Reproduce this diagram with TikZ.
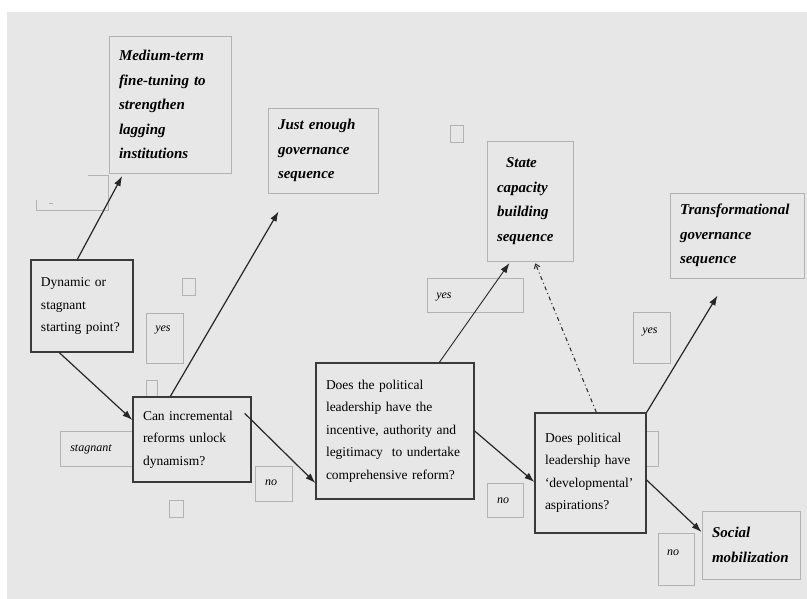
\documentclass[tikz,border=0pt]{standalone}
\usepackage{fontspec}
\setmainfont{Liberation Serif}
\usetikzlibrary{arrows.meta}
\definecolor{paper}{HTML}{E7E7E7}
\definecolor{edge}{HTML}{3A3A3A}
\definecolor{faint}{HTML}{B2B2B2}
\tikzset{
  qbox/.style={draw=edge, line width=1.3pt, fill=paper, inner xsep=10pt, inner ysep=0pt,
    align=left, font=\fontsize{13.5}{22.5}\selectfont},
  rbox/.style={draw=faint, line width=0.9pt, fill=paper, inner xsep=10pt, inner ysep=0pt,
    align=left, font=\fontsize{15}{24.5}\selectfont\bfseries\itshape},
  tagbox/.style={draw=faint, line width=0.9pt, fill=paper, inner sep=0pt},
  tagtext/.style={font=\fontsize{12}{14}\selectfont\itshape, inner sep=0pt},
  flow/.style={draw=black!85, line width=1.2pt, -{Latex[length=10pt,width=7pt]}},
  thinflow/.style={draw=black!85, line width=0.9pt, -{Latex[length=10pt,width=7pt]}},
  maybe/.style={draw=black!80, line width=1.1pt, dash pattern=on 4pt off 3pt on 1pt off 3pt,
    -{Straight Barb[length=4pt,width=6pt]}},
}
\begin{document}
\begin{tikzpicture}[x=1pt,y=-1pt]
\useasboundingbox (0,0) rectangle (807,599);
\fill[white] (0,0) rectangle (807,599);
\fill[paper] (7,12) rectangle (807,599);

% small tag frames (some partly hidden behind the question boxes)
\draw[faint, line width=0.9pt] (36,200) -- (36,210) -- (108,210) -- (108,175) -- (88,175);
\draw[faint, line width=0.8pt] (49,203) -- (53,203);
\node[tagbox, minimum width=13pt, minimum height=17pt] (sqa) at (188.5,286.5) {};
\node[tagbox, minimum width=37pt, minimum height=50pt] (yesa) at (164.5,338) {};
\node[tagbox, minimum width=11pt, minimum height=20pt] (sqb) at (151.5,390) {};
\node[tagbox, minimum width=80pt, minimum height=35pt] (stag) at (100,448.5) {};
\node[tagbox, minimum width=37pt, minimum height=35pt] (noa) at (273.5,483.5) {};
\node[tagbox, minimum width=14pt, minimum height=17pt] (sqc) at (176,508.5) {};
\node[tagbox, minimum width=13pt, minimum height=17pt] (sqd) at (456.5,133.5) {};
\node[tagbox, minimum width=96pt, minimum height=34pt] (yesb) at (475,295) {};
\node[tagbox, minimum width=37pt, minimum height=51pt] (yesc) at (651.5,337.5) {};
\node[tagbox, minimum width=18pt, minimum height=35pt] (sqe) at (649,448.5) {};
\node[tagbox, minimum width=36pt, minimum height=34pt] (nob) at (505,500) {};
\node[tagbox, minimum width=36pt, minimum height=52pt] (noc) at (676,559) {};

% tag words
\node[tagtext] (yesat) at (163,330) {yes};
\node[tagtext] (stagt) at (91,449) {stagnant};
\node[tagtext] (noat) at (271,483) {no};
\node[tagtext] (yesbt) at (444,297) {yes};
\node[tagtext] (yesct) at (650,332) {yes};
\node[tagtext] (nobt) at (503,501) {no};
\node[tagtext] (noct) at (673,553) {no};

% outcome boxes
\node[rbox, minimum width=122pt, minimum height=137pt, text width=102pt] (med) at (170,104.5)
  {Medium-term\\fine-tuning to\\strengthen\\lagging\\institutions};
\node[rbox, minimum width=110pt, minimum height=85pt, text width=90pt] (just) at (323,150.5)
  {Just enough\\governance\\sequence};
\node[rbox, minimum width=86pt, minimum height=120pt, text width=66pt] (state) at (530,201)
  {\hspace*{9pt}State\\capacity\\building\\sequence};
\node[rbox, minimum width=134pt, minimum height=85pt, text width=114pt] (trans) at (737,235.5)
  {Transformational\\governance\\sequence};
\node[rbox, minimum width=98pt, minimum height=68pt, text width=78pt] (social) at (751,545)
  {Social\\mobilization};

% question boxes
\node[qbox, minimum width=102pt, minimum height=92pt, text width=82pt] (dyn) at (82,306)
  {Dynamic or\\stagnant\\starting point?};
\node[qbox, minimum width=118pt, minimum height=85pt, text width=98pt] (can) at (192,439.5)
  {Can incremental\\reforms unlock\\dynamism?};
\node[qbox, minimum width=158pt, minimum height=136pt, text width=138pt] (lead) at (395,431)
  {Does the political\\leadership have the\\incentive, authority and\\legitimacy\ \ to undertake\\comprehensive reform?};
\node[qbox, minimum width=111pt, minimum height=120pt, text width=91pt] (dev) at (590.5,473)
  {Does political\\leadership have\\‘developmental’\\aspirations?};

% connectors
\draw[flow, shorten >=3pt] ([xshift=47pt]dyn.north west) -- ([xshift=15pt]med.south west);
\draw[flow] ([xshift=38pt]can.north west) -- ([xshift=11pt,yshift=-18pt]just.south west);
\draw[flow] ([xshift=29pt]dyn.south west) -- ([yshift=19.5pt]can.west);
\draw[flow] ([xshift=-7pt,yshift=-17pt]can.north east) -- ([yshift=-52pt]lead.west);
\draw[thinflow, shorten >=2pt] ([xshift=124pt]lead.north west) -- ([xshift=24pt]state.south west);
\draw[maybe, shorten >=2pt] ([xshift=62pt]dev.north west) -- ([xshift=48pt]state.south west);
\draw[flow] (lead.east) -- ([yshift=-9pt]dev.west);
\draw[flow] (dev.north east) -- ([xshift=48pt,yshift=-17pt]trans.south west);
\draw[flow] ([yshift=-7pt]dev.east) -- ([yshift=13pt]social.west);
\end{tikzpicture}
\end{document}
